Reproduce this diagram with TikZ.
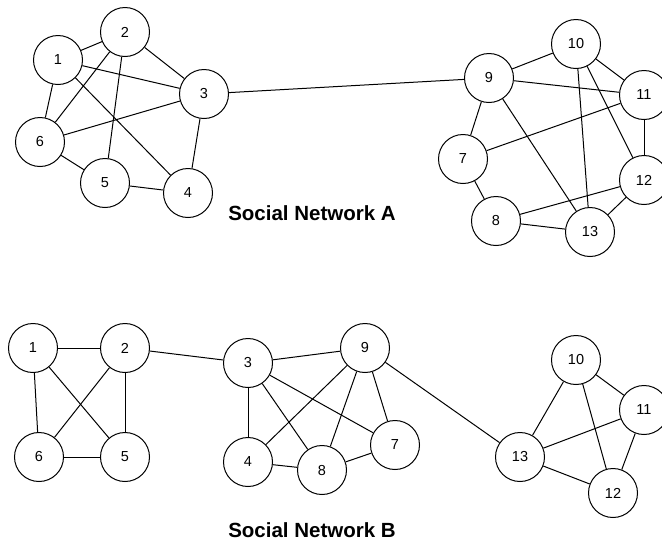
\documentclass[tikz,border=0pt]{standalone}
\usepackage{fontspec}
\setmainfont{Liberation Sans}
\begin{document}
\begin{tikzpicture}[x=1pt,y=-1pt,
  vert/.style={circle,draw,line width=1pt,minimum size=49pt,inner sep=0pt,font=\fontsize{14.5}{16}\selectfont,fill=white},
  edge/.style={line width=1pt},
  title/.style={font=\bfseries\fontsize{20.5}{24}\selectfont}]
\useasboundingbox (0,0) rectangle (662,550);
% Network A
\node[vert] (a1) at (58,60) {1};
\node[vert] (a2) at (125,32) {2};
\node[vert] (a3) at (204,94) {3};
\node[vert] (a6) at (40,142) {6};
\node[vert] (a4) at (188,193) {4};
\node[vert] (a5) at (105,183) {5};
\node[vert] (a9) at (489,78) {9};
\node[vert] (a10) at (576,44) {10};
\node[vert] (a11) at (644,95) {11};
\node[vert] (a7) at (463,159) {7};
\node[vert] (a12) at (644,180) {12};
\node[vert] (a8) at (496,221) {8};
\node[vert] (a13) at (590,232) {13};
\node[title] (ta) at (312,213) {Social Network A};
\foreach \u/\v in {a1/a2,a1/a6,a1/a3,a1/a4,a2/a3,a2/a6,a2/a5,a3/a6,a3/a4,a6/a5,a5/a4,a3/a9,
  a9/a10,a9/a11,a9/a7,a9/a13,a10/a11,a10/a13,a10/a12,a11/a7,a11/a12,a12/a8,a12/a13,a7/a8,a8/a13}
  \draw[edge] (\u) -- (\v);
% Network B
\node[vert] (b1) at (33,348) {1};
\node[vert] (b2) at (125,348) {2};
\node[vert] (b3) at (248,363) {3};
\node[vert] (b9) at (365,348) {9};
\node[vert] (b6) at (39,457) {6};
\node[vert] (b5) at (125,457) {5};
\node[vert] (b4) at (248,462) {4};
\node[vert] (b7) at (395,445) {7};
\node[vert] (b8) at (322,470) {8};
\node[vert] (b13) at (520,457) {13};
\node[vert] (b10) at (576,360) {10};
\node[vert] (b11) at (644,410) {11};
\node[vert] (b12) at (613,493) {12};
\node[title] (tb) at (312,530) {Social Network B};
\foreach \u/\v in {b1/b2,b1/b6,b1/b5,b2/b6,b2/b5,b6/b5,b2/b3,b3/b9,b3/b4,b3/b8,b3/b7,b9/b4,b9/b8,b9/b7,b9/b13,
  b4/b8,b8/b7,b13/b10,b13/b11,b13/b12,b10/b11,b10/b12,b11/b12}
  \draw[edge] (\u) -- (\v);
\end{tikzpicture}
\end{document}
